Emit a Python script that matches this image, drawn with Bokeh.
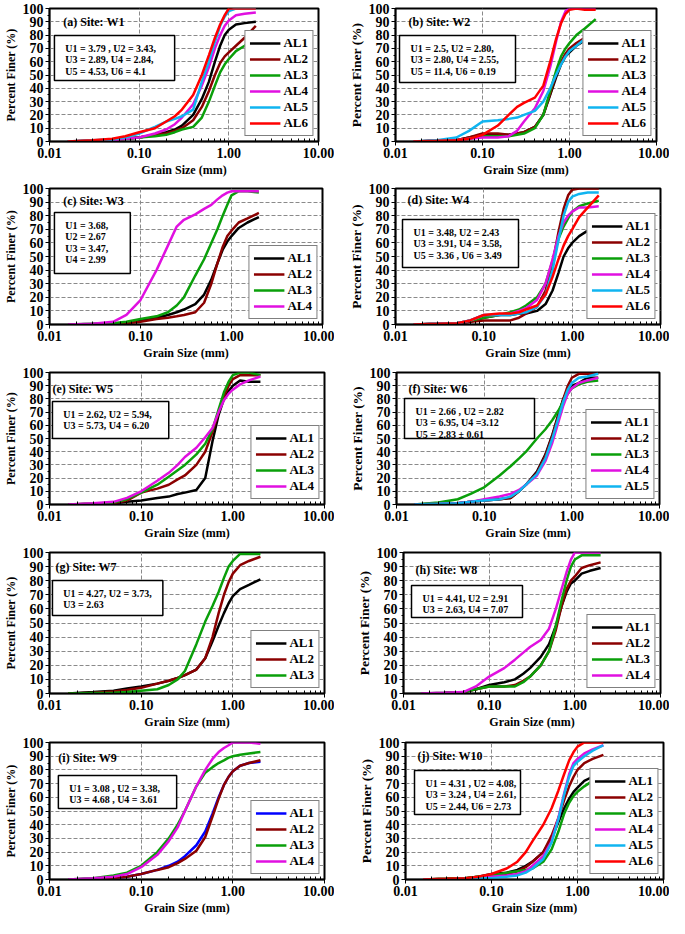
from bokeh.plotting import figure
from bokeh.layouts import column, row
from bokeh.models import (FixedTicker, NumeralTickFormatter, Label, Legend,
                          LegendItem, Range1d, BoxAnnotation)
from bokeh.embed import file_html
from bokeh.resources import INLINE

FONT = "Liberation Serif"

# Grain sizes (mm) at which the percent-finer values were read
SIZES = [0.016, 0.03, 0.05, 0.07, 0.1, 0.15, 0.2, 0.25, 0.3, 0.4, 0.5, 0.6,
         0.7, 0.8, 0.9, 1.0, 1.2, 1.5, 2.0]

X_TICKS = [0.01, 0.1, 1, 10]
Y_TICKS = [0, 10, 20, 30, 40, 50, 60, 70, 80, 90, 100]

# ---- Site W1
W1_AL1 = [0, 0.5, 1, 2, 3, 5, 7, 9, 12, 20, 32, 45, 60, 72, 80, 84, 88, 89, 90]
W1_AL2 = [0, 0.5, 1, 2, 3, 5, 6, 8, 10, 16, 26, 38, 50, 59, 64, 67, 72, 78, 87]
W1_AL3 = [0, 0.5, 1, 2, 3, 4, 5, 7, 9, 11, 18, 30, 42, 52, 58, 62, 68, 72, 79]
W1_AL4 = [0, 0.5, 1, 2, 3, 6, 9, 13, 18, 28, 42, 56, 70, 80, 87, 91, 95, 96, 97]
W1_AL5 = [0, 1, 1.5, 3, 6, 11, 15, 17, 19, 24, 45, 60, 75, 87, 94, 98, 100, 100, 100]
W1_AL6 = [0, 1, 2, 4, 7, 10, 15, 19, 24, 35, 50, 65, 78, 88, 95, 100, 100, 100, 100]
# ---- Site W2
W2_AL1 = [0, 0.5, 1, 3, 5, 5, 5, 6, 7, 11, 20, 35, 48, 58, 64, 67, 72, 76, 80]
W2_AL2 = [0, 0.5, 1, 3, 6, 6, 5, 6, 7, 11, 20, 36, 50, 60, 66, 70, 74, 78, 83]
W2_AL3 = [0, 0.5, 1, 2, 4, 4, 4, 5, 6, 10, 20, 38, 53, 64, 70, 74, 80, 85, 92]
W2_AL4 = [0, 0.5, 1, 2, 3, 3, 4, 8, 15, 25, 38, 56, 75, 90, 98, 100, 100, 100, 100]
W2_AL5 = [0, 1, 3, 8, 15, 16, 17, 18, 20, 23, 30, 40, 50, 58, 64, 68, 72, 77, 82]
W2_AL6 = [0, 0.5, 1, 2, 5, 12, 20, 26, 29, 33, 42, 60, 77, 89, 96, 99, 100, 99, 99]
# ---- Site W3
W3_AL1 = [0, 0.3, 0.5, 1, 3, 5, 7, 9, 11, 15, 22, 33, 45, 55, 61, 65, 71, 75, 79]
W3_AL2 = [0, 0.2, 0.5, 1, 2, 4, 5, 6, 7, 9, 16, 30, 45, 57, 65, 69, 75, 78, 82]
W3_AL3 = [0, 0.5, 1, 2, 4, 6, 9, 14, 20, 36, 48, 60, 70, 80, 88, 95, 98, 98, 97]
W3_AL4 = [0, 0.5, 2, 7, 18, 40, 58, 72, 77, 81, 85, 88, 92, 95, 97, 98, 98, 98, 98]
# ---- Site W4
W4_AL1 = [0, 0.5, 1, 2, 5, 7, 7, 8, 8, 10, 15, 25, 38, 50, 56, 60, 65, 69, 74]
W4_AL2 = [0, 0.5, 1, 2, 3, 3, 3, 5, 8, 13, 25, 45, 68, 85, 95, 99, 100, 100, 100]
W4_AL3 = [0, 0.5, 1, 3, 5, 7, 9, 11, 14, 20, 30, 47, 63, 72, 78, 83, 87, 89, 91]
W4_AL4 = [0, 0.5, 1, 3, 7, 7, 8, 10, 12, 18, 30, 48, 65, 75, 80, 83, 86, 86, 87]
W4_AL5 = [0, 0.5, 1, 3, 7, 7, 7, 8, 9, 13, 22, 40, 62, 80, 90, 94, 96, 97, 97]
W4_AL6 = [0, 0.5, 1, 3, 7, 8, 8, 9, 11, 14, 22, 35, 48, 58, 65, 70, 79, 86, 95]
# ---- Site W5
W5_AL1 = [0, 0.5, 1, 2, 3, 5, 6, 8, 9, 11, 20, 48, 68, 80, 86, 90, 94, 93, 93]
W5_AL2 = [0, 0.5, 1, 3, 9, 12, 15, 19, 22, 30, 40, 55, 70, 82, 90, 95, 98, 98, 98]
W5_AL3 = [0, 0.5, 1.5, 4, 9, 15, 21, 26, 30, 38, 46, 57, 72, 85, 93, 98, 100, 100, 98]
W5_AL4 = [0, 1, 2, 5, 10, 18, 24, 30, 36, 43, 51, 58, 70, 79, 84, 87, 91, 94, 97]
# ---- Site W6
W6_AL1 = [0, 0.5, 1, 2, 3, 4, 5, 10, 15, 25, 38, 53, 68, 80, 87, 90, 92, 96, 96]
W6_AL2 = [0, 0.5, 1, 2, 3, 4, 5, 10, 15, 24, 37, 52, 67, 80, 90, 96, 99, 99, 99]
W6_AL3 = [0, 1.5, 4, 8, 13, 22, 29, 35, 40, 50, 57, 64, 71, 78, 84, 88, 91, 93, 94]
W6_AL4 = [0, 0.5, 1, 2, 4, 6, 8, 11, 15, 22, 33, 47, 62, 75, 84, 88, 92, 94, 96]
W6_AL5 = [0, 0.5, 1, 2, 3, 4, 6, 10, 15, 23, 35, 50, 65, 78, 87, 92, 96, 97, 99]
# ---- Site W7
W7_AL1 = [0, 1, 2, 3.5, 5, 7, 9, 11, 13, 17, 25, 37, 48, 57, 64, 69, 74, 77, 81]
W7_AL2 = [0, 0.5, 1.5, 2.5, 4, 7, 9, 11, 13, 17, 25, 40, 57, 70, 79, 85, 91, 94, 97]
W7_AL3 = [0, 0.3, 0.5, 1, 2, 3, 6, 10, 16, 35, 51, 62, 72, 82, 90, 94, 99, 99, 99]
# ---- Site W8
W8_AL1 = [0, 0.5, 1, 3, 6, 8, 10, 14, 18, 26, 35, 48, 62, 72, 78, 80, 85, 87, 89]
W8_AL2 = [0, 0.3, 1, 3, 5, 5, 6, 9, 12, 20, 30, 45, 62, 74, 80, 83, 89, 91, 93]
W8_AL3 = [0, 0.3, 1, 3, 5, 5, 5, 8, 12, 20, 30, 48, 66, 80, 90, 95, 98, 98, 98]
W8_AL4 = [0, 0.5, 1, 5, 12, 18, 24, 29, 33, 38, 46, 60, 74, 86, 95, 100, 100, 100, 100]
# ---- Site W9
W9_AL1 = [0, 0.5, 1, 2, 4, 7, 10, 13, 17, 25, 35, 48, 60, 69, 75, 79, 83, 85, 86]
W9_AL2 = [0, 0.5, 1, 2, 4, 7, 9, 12, 15, 21, 31, 46, 59, 69, 75, 79, 83, 85, 87]
W9_AL3 = [0, 1, 3, 5, 10, 20, 30, 40, 50, 68, 78, 82, 85, 87, 89, 90, 91, 92, 93]
W9_AL4 = [0, 1, 2, 4, 9, 18, 28, 38, 50, 68, 80, 88, 93, 96, 98, 100, 100, 100, 99]
# ---- Site W10
W10_AL1 = [0, 0.5, 1, 2, 4, 5, 7, 10, 13, 20, 30, 42, 52, 59, 64, 67, 72, 75, 79]
W10_AL2 = [0, 0.5, 1, 2, 3, 4, 6, 9, 13, 20, 32, 45, 58, 68, 75, 80, 85, 88, 91]
W10_AL3 = [0, 0.5, 1, 2, 3, 5, 6, 7, 8, 13, 22, 35, 48, 56, 61, 64, 68, 72, 77]
W10_AL4 = [0, 0, 0.5, 1, 2, 3, 4, 6, 10, 17, 28, 45, 63, 77, 85, 88, 92, 95, 98]
W10_AL5 = [0, 0, 0.5, 1, 1, 2, 3, 5, 8, 15, 27, 44, 62, 75, 83, 86, 90, 94, 98]
W10_AL6 = [0, 0.5, 1, 2, 4, 8, 13, 20, 28, 40, 52, 65, 77, 87, 93, 97, 100, 100, 100]

U_TEXT = {
    "a": "U1 = 3.79 , U2 = 3.43,\nU3 = 2.89, U4 = 2.84,\nU5 = 4.53, U6 = 4.1",
    "b": "U1 = 2.5, U2 = 2.80,\nU3 = 2.80, U4 = 2.55,\nU5 = 11.4, U6 = 0.19",
    "c": "U1 = 3.68,\nU2 = 2.67\nU3 = 3.47,\nU4 = 2.99",
    "d": "U1 = 3.48, U2 = 2.43\nU3 = 3.91, U4 = 3.58,\nU5 = 3.36 , U6 = 3.49",
    "e": "U1 = 2.62, U2 = 5.94,\nU3 = 5.73, U4 = 6.20",
    "f": "U1 = 2.66 , U2 = 2.82\nU3 = 6.95, U4 =3.12\nU5 = 2.83 \u00b1 0.61",
    "g": "U1 = 4.27, U2 = 3.73,\nU3 = 2.63",
    "h": "U1 = 4.41, U2 = 2.91\nU3 = 2.63, U4 = 7.07",
    "i": "U1 = 3.08 , U2 = 3.38,\nU3 = 4.68 , U4 = 3.61",
    "j": "U1 = 4.31 , U2 = 4.08,\nU3 = 3.24 , U4 = 2.61,\nU5 = 2.44, U6 = 2.73",
}

COLORS = {"AL1": "#000000", "AL2": "#8B0000", "AL3": "#0A9F0A",
          "AL4": "#E010E0", "AL5": "#10B4F0", "AL6": "#FF0000"}
COLORS_W9 = dict(COLORS, AL1="#0000FF")


def panel(tag, site, series, colors, width, height, bl, br, bt, bb,
          box, title_off, ylab_size):
    fw = width - bl - br
    fh = height - bt - bb

    def X(dx):
        return 0.01 * 10 ** (3.0 * dx / fw)

    def Y(dy):
        return 100.0 * (1.0 - dy / fh)

    p = figure(width=width, height=height, x_axis_type="log",
               x_range=Range1d(0.01, 10), y_range=Range1d(0, 100),
               output_backend="svg", toolbar_location=None,
               min_border_left=bl, min_border_right=br,
               min_border_top=bt, min_border_bottom=bb)
    p.background_fill_color = "white"
    p.border_fill_color = "white"
    p.outline_line_color = "black"
    p.outline_line_width = 2

    minor = [m * d for d in (0.01, 0.1, 1) for m in range(2, 10)]
    p.xaxis.ticker = FixedTicker(ticks=X_TICKS, minor_ticks=minor)
    p.xaxis.formatter = NumeralTickFormatter(format="0.00")
    p.xaxis.axis_label = "Grain Size (mm)"
    p.yaxis.ticker = FixedTicker(ticks=Y_TICKS,
                                 minor_ticks=[v + 5 for v in Y_TICKS[:-1]])
    p.yaxis.axis_label = "Percent Finer (%)"
    for ax in (p.xaxis[0], p.yaxis[0]):
        ax.major_label_text_font = FONT
        ax.major_label_text_font_style = "bold"
        ax.major_label_text_font_size = "14px"
        ax.major_label_text_color = "black"
        ax.axis_label_text_font = FONT
        ax.axis_label_text_font_style = "bold"
        ax.axis_label_text_font_size = "12px"
        ax.axis_label_text_color = "black"
        ax.axis_line_color = "black"
        ax.axis_line_width = 1.5
        ax.major_tick_line_color = "black"
        ax.minor_tick_line_color = "black"
        ax.major_label_standoff = 2
        ax.axis_label_standoff = 2
    p.yaxis.axis_label_text_font_size = ylab_size
    p.xaxis.major_tick_in = 0
    p.xaxis.major_tick_out = 4
    p.xaxis.minor_tick_in = 3
    p.xaxis.minor_tick_out = 0
    p.yaxis.major_tick_in = 0
    p.yaxis.major_tick_out = 4
    p.yaxis.minor_tick_in = 0
    p.yaxis.minor_tick_out = 2

    for g in (p.xgrid[0], p.ygrid[0]):
        g.grid_line_color = "#8a8a8a"
        g.grid_line_dash = "4 2"
        g.grid_line_width = 1

    items = []
    for name, ys in series:
        r = p.line(SIZES, ys, line_color=colors[name], line_width=2.5)
        items.append(LegendItem(label=name, renderers=[r]))

    legend = Legend(items=items, location="bottom_right", margin=5,
                    border_line_color="black", border_line_width=1.5,
                    background_fill_color="white", background_fill_alpha=1,
                    label_text_font=FONT, label_text_font_style="bold",
                    label_text_font_size="13px", label_text_color="black",
                    glyph_width=31, glyph_height=10, label_height=10,
                    label_standoff=3, spacing=0, padding=4)
    p.add_layout(legend)

    dx, dy, bw, bh = box
    p.add_layout(BoxAnnotation(left=X(dx), right=X(dx + bw),
                               top=Y(dy), bottom=Y(dy + bh),
                               fill_color="white", fill_alpha=1,
                               line_color="black", line_width=1.5,
                               line_alpha=1))
    p.add_layout(Label(x=X(dx + 11), y=Y(dy + 7), text=U_TEXT[tag],
                       text_font=FONT, text_font_style="bold",
                       text_font_size="10px", text_color="black",
                       text_align="left", text_baseline="top",
                       text_line_height=1.05))
    tx, ty = title_off
    p.add_layout(Label(x=X(tx), y=Y(ty), text="(%s) Site: %s" % (tag, site),
                       text_font=FONT, text_font_style="bold",
                       text_font_size="12px", text_color="black",
                       text_align="left", text_baseline="top"))
    return p


def s(*pairs):
    return list(pairs)


L, R = "12px", "13.5px"
pa = panel("a", "W1", s(("AL1", W1_AL1), ("AL2", W1_AL2), ("AL3", W1_AL3),
                        ("AL4", W1_AL4), ("AL5", W1_AL5), ("AL6", W1_AL6)),
           COLORS, 334, 180, 45, 16, 8, 39, (5, 27, 122, 45), (14, 6), L)
pb = panel("b", "W2", s(("AL1", W2_AL1), ("AL2", W2_AL2), ("AL3", W2_AL3),
                        ("AL4", W2_AL4), ("AL5", W2_AL5), ("AL6", W2_AL6)),
           COLORS, 335, 180, 61, 13, 8, 39, (4, 27, 116, 47), (13, 6), R)
pc = panel("c", "W3", s(("AL1", W3_AL1), ("AL2", W3_AL2), ("AL3", W3_AL3),
                        ("AL4", W3_AL4)),
           COLORS, 334, 184, 45, 12, 8, 40, (5, 24, 77, 61), (14, 5), L)
pd = panel("d", "W4", s(("AL1", W4_AL1), ("AL2", W4_AL2), ("AL3", W4_AL3),
                        ("AL4", W4_AL4), ("AL5", W4_AL5), ("AL6", W4_AL6)),
           COLORS, 335, 184, 61, 9, 8, 40, (7, 31, 116, 48), (12, 4), R)
pe = panel("e", "W5", s(("AL1", W5_AL1), ("AL2", W5_AL2), ("AL3", W5_AL3),
                        ("AL4", W5_AL4)),
           COLORS, 334, 180, 45, 10, 8, 40, (3, 29, 118, 37), (3, 9), L)
pf = panel("f", "W6", s(("AL1", W6_AL1), ("AL2", W6_AL2), ("AL3", W6_AL3),
                        ("AL4", W6_AL4), ("AL5", W6_AL5)),
           COLORS, 335, 180, 62, 10, 8, 40, (8, 26, 130, 40), (12, 9), R)
pg = panel("g", "W7", s(("AL1", W7_AL1), ("AL2", W7_AL2), ("AL3", W7_AL3)),
           COLORS, 334, 188, 45, 10, 8, 39, (3, 28, 112, 35), (6, 7), L)
ph = panel("h", "W8", s(("AL1", W8_AL1), ("AL2", W8_AL2), ("AL3", W8_AL3),
                        ("AL4", W8_AL4)),
           COLORS, 335, 188, 69, 9, 8, 39, (8, 33, 111, 32), (12, 10), R)
pi = panel("i", "W9", s(("AL1", W9_AL1), ("AL2", W9_AL2), ("AL3", W9_AL3),
                        ("AL4", W9_AL4)),
           COLORS_W9, 334, 186, 45, 10, 10, 39, (9, 33, 120, 33), (9, 8), L)
pj = panel("j", "W10", s(("AL1", W10_AL1), ("AL2", W10_AL2), ("AL3", W10_AL3),
                         ("AL4", W10_AL4), ("AL5", W10_AL5), ("AL6", W10_AL6)),
           COLORS, 335, 186, 71, 6, 10, 39, (9, 28, 106, 44), (12, 6), R)

layout = column(row(pa, pb), row(pc, pd), row(pe, pf), row(pg, ph), row(pi, pj))

open("out.html", "w").write(file_html(layout, INLINE))
